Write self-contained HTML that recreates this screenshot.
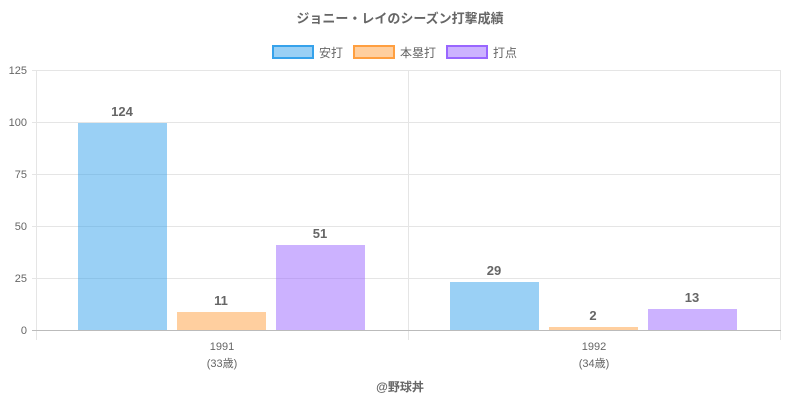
<!DOCTYPE html>
<html><head><meta charset="utf-8"><style>
body{margin:0;background:#fff;}
svg text{font-family:"Liberation Sans","Noto Sans CJK JP",sans-serif;}
</style></head><body>
<svg width="800" height="400" xmlns="http://www.w3.org/2000/svg">
<text x="400" y="23" text-anchor="middle" font-size="13" font-weight="bold" fill="#666">ジョニー・レイのシーズン打撃成績</text>
<rect x="273" y="46" width="40" height="12" fill="rgba(54,162,235,0.5)" stroke="#36a2eb" stroke-width="2"/>
<text x="319" y="57" font-size="12" fill="#666">安打</text>
<rect x="354" y="46" width="40" height="12" fill="rgba(255,159,64,0.5)" stroke="#ff9f40" stroke-width="2"/>
<text x="400" y="57" font-size="12" fill="#666">本塁打</text>
<rect x="447" y="46" width="40" height="12" fill="rgba(153,102,255,0.5)" stroke="#9966ff" stroke-width="2"/>
<text x="493" y="57" font-size="12" fill="#666">打点</text>
<g stroke="#e5e5e5" stroke-width="1">
<line x1="32" y1="70.5" x2="781" y2="70.5"/>
<line x1="32" y1="122.5" x2="781" y2="122.5"/>
<line x1="32" y1="174.5" x2="781" y2="174.5"/>
<line x1="32" y1="226.5" x2="781" y2="226.5"/>
<line x1="32" y1="278.5" x2="781" y2="278.5"/>
<line x1="408.5" y1="70" x2="408.5" y2="340"/>
<line x1="36.5" y1="70" x2="36.5" y2="340"/>
<line x1="780.5" y1="70" x2="780.5" y2="340"/>
</g>
<line x1="32" y1="330.5" x2="781" y2="330.5" stroke="#bbb"/>
<g font-size="11" fill="#666" text-anchor="end">
<text x="27" y="74">125</text><text x="27" y="126">100</text><text x="27" y="178">75</text>
<text x="27" y="230">50</text><text x="27" y="282">25</text><text x="27" y="334">0</text>
</g>
<g>
<rect x="78" y="123" width="89" height="207" fill="rgba(54,162,235,0.5)"/>
<rect x="177" y="312" width="89" height="18" fill="rgba(255,159,64,0.5)"/>
<rect x="276" y="245" width="89" height="85" fill="rgba(153,102,255,0.5)"/>
<rect x="450" y="282" width="89" height="48" fill="rgba(54,162,235,0.5)"/>
<rect x="549" y="327" width="89" height="3" fill="rgba(255,159,64,0.5)"/>
<rect x="648" y="309" width="89" height="21" fill="rgba(153,102,255,0.5)"/>
</g>
<g font-size="13" font-weight="bold" fill="#666" text-anchor="middle">
<text x="122" y="116">124</text><text x="221" y="305">11</text><text x="320" y="238">51</text>
<text x="494" y="275">29</text><text x="593" y="320">2</text><text x="692" y="302">13</text>
</g>
<g font-size="11" fill="#666" text-anchor="middle">
<text x="222" y="350">1991</text><text x="222" y="367">(33歳)</text>
<text x="594" y="350">1992</text><text x="594" y="367">(34歳)</text>
</g>
<text x="400" y="391" text-anchor="middle" font-size="12" font-weight="bold" fill="#666">@野球丼</text>
</svg>
</body></html>
